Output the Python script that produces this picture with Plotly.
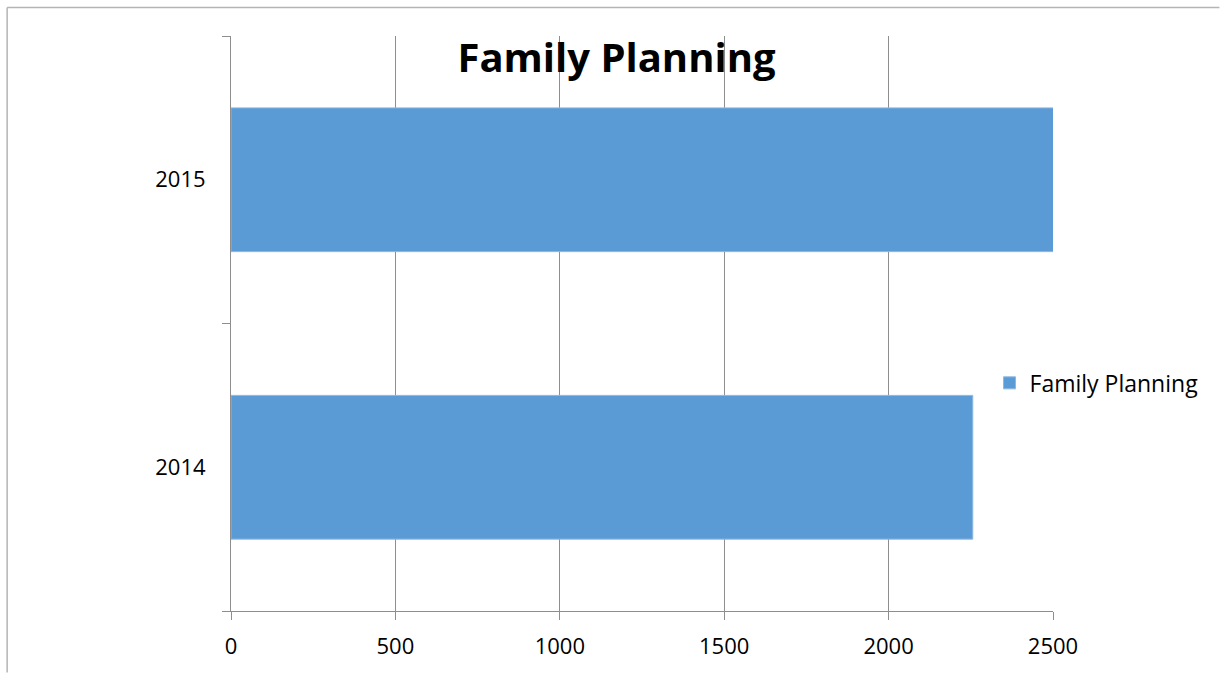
import plotly.graph_objects as go

# Data
years = ["2014", "2015"]
counts = [2256, 2505]
series_name = "Family Planning"
x_ticks = [0, 500, 1000, 1500, 2000, 2500]

W, H = 1220, 673
M_L, M_R, M_T, M_B = 231, 166.5, 35.5, 61.5
plot_w = W - M_L - M_R
plot_h = H - M_T - M_B

def px_to_paper_x(px):
    return (px - M_L) / plot_w

def px_to_paper_y(py):
    return (H - M_B - py) / plot_h

BAR = "#5b9bd5"
GRID = "#8e8e8e"
FONT = "'Open Sans', sans-serif"

fig = go.Figure()
fig.add_trace(go.Bar(
    y=years,
    x=counts,
    orientation="h",
    name=series_name,
    marker=dict(color=BAR, line=dict(color="#8ab8e4", width=1)),
    showlegend=True,
))

fig.update_layout(
    width=W,
    height=H,
    margin=dict(l=M_L, r=M_R, t=M_T, b=M_B, pad=0),
    paper_bgcolor="white",
    plot_bgcolor="white",
    bargap=0.5,
    font=dict(family=FONT, size=22, color="#000000"),
    title=dict(
        text="<b>Family Planning</b>",
        font=dict(family=FONT, size=40, color="#000000"),
        x=616.5 / W,
        xanchor="center",
        y=1 - 58 / H,
        yanchor="middle",
    ),
    showlegend=True,
    legend=dict(
        x=px_to_paper_x(990),
        y=px_to_paper_y(383),
        xanchor="left",
        yanchor="middle",
        font=dict(family=FONT, size=23),
        bgcolor="rgba(0,0,0,0)",
    ),
    xaxis=dict(
        range=[0, 2500],
        tickvals=x_ticks,
        ticktext=[str(v) for v in x_ticks],
        showgrid=True,
        gridcolor=GRID,
        gridwidth=1,
        showline=True,
        linecolor=GRID,
        linewidth=1,
        ticks="outside",
        ticklen=8,
        tickcolor=GRID,
        ticklabelstandoff=8,
        zeroline=False,
        tickfont=dict(family=FONT, size=22),
        fixedrange=True,
    ),
    yaxis=dict(
        type="category",
        categoryorder="array",
        categoryarray=years,
        showgrid=False,
        showline=True,
        linecolor=GRID,
        linewidth=1,
        ticks="outside",
        tickson="boundaries",
        ticklen=8,
        tickcolor=GRID,
        ticklabelstandoff=20,
        tickfont=dict(family=FONT, size=22),
        fixedrange=True,
    ),
)

# Outer chart frame (top and left edges)
fig.add_shape(type="line", xref="paper", yref="paper",
              x0=px_to_paper_x(7), x1=px_to_paper_x(W), y0=px_to_paper_y(7), y1=px_to_paper_y(7),
              line=dict(color="#b4b4b4", width=1.5), layer="above")
fig.add_shape(type="line", xref="paper", yref="paper",
              x0=px_to_paper_x(7), x1=px_to_paper_x(7), y0=px_to_paper_y(7), y1=px_to_paper_y(H),
              line=dict(color="#b4b4b4", width=1.5), layer="above")

fig.write_html("out.html")
